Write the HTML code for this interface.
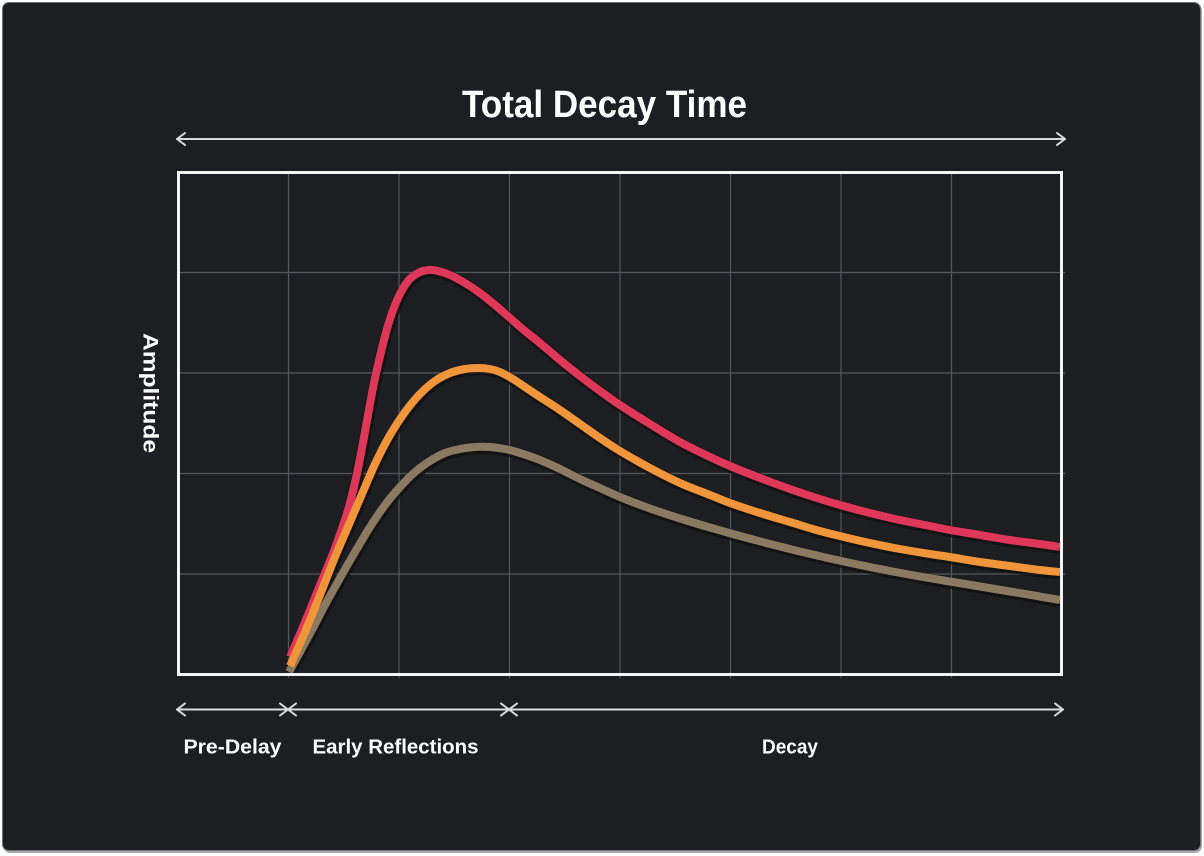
<!DOCTYPE html>
<html>
<head>
<meta charset="utf-8">
<style>
  html, body { margin:0; padding:0; background:#ffffff; }
  body { width:1204px; height:856px; position:relative; overflow:hidden; }
  .card {
    position:absolute; left:2px; top:2px; width:1197px; height:847px;
    background:#1c1e22; border:1px solid #6d6f73; border-radius:7px;
    box-shadow: 1px 2px 0 #a9abae;
  }
  svg { position:absolute; left:0; top:0; }
  text { font-family:"Liberation Sans", Arial, sans-serif; font-weight:bold; fill:#ffffff; }
</style>
</head>
<body>
<div class="card"></div>
<svg id="chart" width="1204" height="856" viewBox="0 0 1204 856" xmlns="http://www.w3.org/2000/svg">
  <!-- Title -->
  <text x="462" y="117" font-size="38" textLength="285" lengthAdjust="spacingAndGlyphs">Total Decay Time</text>

  <!-- Top arrow -->
  <g stroke="#dcdcdc" stroke-width="2" fill="none" stroke-linecap="round" stroke-linejoin="round">
    <line x1="177" y1="139" x2="1065" y2="139"/>
    <polyline points="185,133 177,139 185,145"/>
    <polyline points="1057,133 1065,139 1057,145"/>
  </g>

  <!-- Grid -->
  <g stroke="#55585d" stroke-width="1.2">
    <line x1="288.5" y1="172" x2="288.5" y2="678"/>
    <line x1="399" y1="172" x2="399" y2="678"/>
    <line x1="509.5" y1="172" x2="509.5" y2="678"/>
    <line x1="620" y1="172" x2="620" y2="678"/>
    <line x1="730.5" y1="172" x2="730.5" y2="678"/>
    <line x1="841" y1="172" x2="841" y2="678"/>
    <line x1="951.5" y1="172" x2="951.5" y2="678"/>
    <line x1="178" y1="272.5" x2="1065" y2="272.5"/>
    <line x1="178" y1="373" x2="1065" y2="373"/>
    <line x1="178" y1="473.5" x2="1065" y2="473.5"/>
    <line x1="178" y1="574" x2="1065" y2="574"/>
  </g>

  <!-- Curves shadows -->
  <g fill="none" stroke="#121010" stroke-opacity="0.75" stroke-width="11.5" stroke-linejoin="round" stroke-linecap="butt" transform="translate(0.8,1.5)">
    <polyline class="sm" points="289,672 300,652 313,628 325,605 340,578 355,552 370,527 385,505 400,487 415,472 430,461 445,453 460,449 475,447 490,447 505,449 520,453 540,460 560,469 580,479 600,488 620,497 650,508.5 680,518.5 710,527.5 740,536 770,544 800,551.5 830,558.5 860,565 890,571 920,576.5 950,581.5 980,586.5 1010,591.5 1040,596.5 1060,600"/>
    <polyline class="sm" points="290,666 305,632 320,595 335,557 350,522 362,494 375,464 390,435 405,412 420,394 435,381 450,373 465,369 478,368 490,369 500,372 513,379 525,387 540,397 560,410 580,424 600,438 620,451 650,468 680,483 710,495 730,503 760,513 790,522 820,531 840,536 870,543 900,549 930,554 950,557 980,562 1010,566 1040,570 1060,572"/>
    <polyline class="sm" points="290,657 305,622 320,585 335,548 348,510 356,478 362,448 368,415 374,383 381,352 389,322 398,298 408,281 418,273 428,270 438,271 450,275 465,283 480,293 495,305 510,318 525,331 540,343 560,360 580,376 600,391 620,405 650,424 680,442 710,457 730,466 760,478 790,489 820,499 840,505 870,513 900,520 930,526 950,530 980,535 1010,540 1040,544 1060,547"/>
  </g>

  <!-- Tan curve -->
  <polyline class="sm" fill="none" stroke="#8b7a62" stroke-width="8" stroke-linejoin="round"
    points="289,672 300,652 313,628 325,605 340,578 355,552 370,527 385,505 400,487 415,472 430,461 445,453 460,449 475,447 490,447 505,449 520,453 540,460 560,469 580,479 600,488 620,497 650,508.5 680,518.5 710,527.5 740,536 770,544 800,551.5 830,558.5 860,565 890,571 920,576.5 950,581.5 980,586.5 1010,591.5 1040,596.5 1060,600"/>
  <!-- Red curve -->
  <polyline class="sm" fill="none" stroke="#df3759" stroke-width="8" stroke-linejoin="round"
    points="290,657 305,622 320,585 335,548 348,510 356,478 362,448 368,415 374,383 381,352 389,322 398,298 408,281 418,273 428,270 438,271 450,275 465,283 480,293 495,305 510,318 525,331 540,343 560,360 580,376 600,391 620,405 650,424 680,442 710,457 730,466 760,478 790,489 820,499 840,505 870,513 900,520 930,526 950,530 980,535 1010,540 1040,544 1060,547"/>
  <!-- Orange curve -->
  <polyline class="sm" fill="none" stroke="#f0953a" stroke-width="8" stroke-linejoin="round"
    points="290,666 305,632 320,595 335,557 350,522 362,494 375,464 390,435 405,412 420,394 435,381 450,373 465,369 478,368 490,369 500,372 513,379 525,387 540,397 560,410 580,424 600,438 620,451 650,468 680,483 710,495 730,503 760,513 790,522 820,531 840,536 870,543 900,549 930,554 950,557 980,562 1010,566 1040,570 1060,572"/>

  <!-- Plot frame -->
  <rect x="178.5" y="172.5" width="883" height="502" fill="none" stroke="#f4f4f4" stroke-width="3"/>

  <!-- Amplitude label -->
  <text transform="translate(143.5,333) rotate(90)" x="0" y="0" font-size="21" textLength="120" lengthAdjust="spacingAndGlyphs">Amplitude</text>

  <!-- Bottom arrows -->
  <g stroke="#dcdcdc" stroke-width="2" fill="none" stroke-linecap="round" stroke-linejoin="round">
    <line x1="177" y1="709.5" x2="1063" y2="709.5"/>
    <polyline points="185,703.5 177,709.5 185,715.5"/>
    <polyline points="280,703.5 288,709.5 280,715.5"/>
    <polyline points="296,703.5 288,709.5 296,715.5"/>
    <polyline points="501,703.5 509,709.5 501,715.5"/>
    <polyline points="517,703.5 509,709.5 517,715.5"/>
    <polyline points="1055,703.5 1063,709.5 1055,715.5"/>
  </g>

  <!-- Bottom labels -->
  <text x="183.5" y="753.5" font-size="20.5" textLength="98" lengthAdjust="spacingAndGlyphs">Pre-Delay</text>
  <text x="312.5" y="753.5" font-size="20.5" textLength="166" lengthAdjust="spacingAndGlyphs">Early Reflections</text>
  <text x="762" y="753.5" font-size="20.5" textLength="56" lengthAdjust="spacingAndGlyphs">Decay</text>
</svg>
<script>
(function(){
  var NS = "http://www.w3.org/2000/svg";
  var pls = document.querySelectorAll("polyline.sm");
  for (var k = 0; k < pls.length; k++) {
    var pl = pls[k];
    var raw = pl.getAttribute("points").trim().split(/\s+/);
    var P = raw.map(function(s){ var a = s.split(","); return [parseFloat(a[0]), parseFloat(a[1])]; });
    var d = "M" + P[0][0] + "," + P[0][1];
    for (var i = 0; i < P.length - 1; i++) {
      var p0 = P[i - 1] || P[i], p1 = P[i], p2 = P[i + 1], p3 = P[i + 2] || P[i + 1];
      var c1x = p1[0] + (p2[0] - p0[0]) / 6, c1y = p1[1] + (p2[1] - p0[1]) / 6;
      var c2x = p2[0] - (p3[0] - p1[0]) / 6, c2y = p2[1] - (p3[1] - p1[1]) / 6;
      d += " C" + c1x.toFixed(2) + "," + c1y.toFixed(2) + " " + c2x.toFixed(2) + "," + c2y.toFixed(2) + " " + p2[0] + "," + p2[1];
    }
    var path = document.createElementNS(NS, "path");
    for (var j = 0; j < pl.attributes.length; j++) {
      var at = pl.attributes[j];
      if (at.name !== "points" && at.name !== "class") path.setAttribute(at.name, at.value);
    }
    path.setAttribute("d", d);
    pl.parentNode.replaceChild(path, pl);
  }
})();
</script>
</body>
</html>
